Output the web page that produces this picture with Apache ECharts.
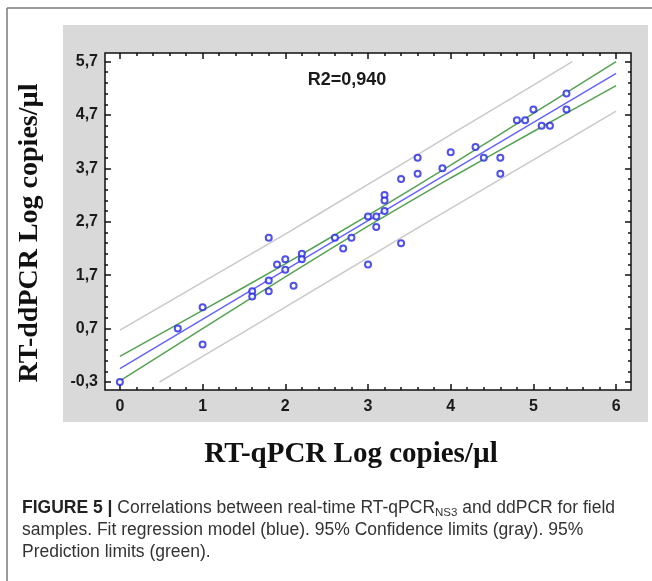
<!DOCTYPE html>
<html>
<head>
<meta charset="utf-8">
<script src="https://cdn.jsdelivr.net/npm/echarts@6/dist/echarts.min.js"></script>
<style>
html,body{margin:0;padding:0;background:#fff;}
#chart{width:652px;height:581px;}
</style>
</head>
<body>
<div id="chart"></div>
<script>
// ---- data ----
const pointsX = [0, 0.7, 1.0, 1.0, 1.6, 1.6, 1.8, 1.8, 1.8, 1.9, 2.0, 2.0, 2.1, 2.2, 2.2, 2.6, 2.7, 2.8, 3.0, 3.0, 3.1, 3.1, 3.2, 3.2, 3.2, 3.4, 3.4, 3.6, 3.6, 3.9, 4.0, 4.3, 4.4, 4.6, 4.6, 4.8, 4.9, 5.0, 5.1, 5.2, 5.4, 5.4];
const pointsY = [-0.3, 0.7, 1.1, 0.4, 1.4, 1.3, 2.4, 1.6, 1.4, 1.9, 2.0, 1.8, 1.5, 2.1, 2.0, 2.4, 2.2, 2.4, 2.8, 1.9, 2.8, 2.6, 3.2, 3.1, 2.9, 3.5, 2.3, 3.9, 3.6, 3.7, 4.0, 4.1, 3.9, 3.9, 3.6, 4.6, 4.6, 4.8, 4.5, 4.5, 5.1, 4.8];

const fitX = [0, 3, 6];
const fitY = [-0.05, 2.72, 5.48];

const greenX = [0, 1, 2, 3, 4, 5, 6];
const greenUpperY = [0.18, 1.04, 1.91, 2.82, 3.76, 4.73, 5.70];
const greenLowerY = [-0.28, 0.70, 1.67, 2.62, 3.52, 4.39, 5.25];

const grayUpperX = [0, 1, 2, 3, 4, 5, 5.47];
const grayUpperY = [0.67, 1.57, 2.47, 3.40, 4.33, 5.26, 5.70];
const grayLowerX = [0.48, 1, 2, 3, 4, 5, 6];
const grayLowerY = [-0.30, 0.18, 1.10, 2.03, 2.95, 3.86, 4.77];

const xMajorTicks = [0, 1, 2, 3, 4, 5, 6];
const yMajorTicks = [-0.3, 0.7, 1.7, 2.7, 3.7, 4.7, 5.7];

const r2Label = 'R2=0,940';
const xTitle = 'RT-qPCR Log copies/\u00b5l';
const yTitle = 'RT-ddPCR Log copies/\u00b5l';

// ---- helpers ----
function minorOf(majors, step, lo, hi) {
  const out = [];
  const first = majors[0];
  for (let v = first - 5 * step; v <= hi + 1e-9; v += step) {
    const r = Math.round(v * 100) / 100;
    if (r < lo || r > hi) continue;
    if (majors.some(m => Math.abs(m - r) < 1e-6)) continue;
    out.push(r);
  }
  return out;
}
const X_MIN = -0.18, X_MAX = 6.18, Y_MIN = -0.45, Y_MAX = 5.86;
const xMinorTicks = minorOf(xMajorTicks, 0.2, X_MIN, X_MAX);
const yMinorTicks = minorOf(yMajorTicks, 0.2, Y_MIN, Y_MAX);

const zip = (xs, ys) => xs.map((x, i) => [x, ys[i]]);

const tickColor = '#111';
const labelFont = { fontFamily: 'Liberation Sans, Arial, sans-serif', fontWeight: 'bold', fontSize: 16, color: '#1a1a1a' };

function makeAxis(kind, position, values, len, withLabels) {
  const isX = kind === 'x';
  return {
    type: 'value',
    position: position,
    min: isX ? X_MIN : Y_MIN,
    max: isX ? X_MAX : Y_MAX,
    axisLine: { show: false, onZero: false },
    splitLine: { show: false },
    axisTick: { show: true, inside: true, length: len, customValues: values, lineStyle: { color: tickColor, width: 1.5 } },
    axisLabel: withLabels ? Object.assign({
      show: true,
      customValues: values,
      margin: isX ? 9 : 7,
      formatter: v => isX ? String(Math.round(v)) : Number(v).toFixed(1).replace('.', ',')
    }, labelFont) : { show: false }
  };
}

const chart = echarts.init(document.getElementById('chart'), null, { renderer: 'canvas' });

const lineBase = { type: 'line', showSymbol: false, symbol: 'none', silent: true, smooth: 0.2, z: 3 };

chart.setOption({
  animation: false,
  backgroundColor: '#ffffff',
  grid: {
    left: 105, top: 53, width: 526, height: 337,
    show: true, backgroundColor: '#ffffff', borderColor: '#111', borderWidth: 1.5,
    containLabel: false
  },
  xAxis: [
    makeAxis('x', 'bottom', xMajorTicks, 6, true),
    makeAxis('x', 'bottom', xMinorTicks, 3, false),
    makeAxis('x', 'top', xMajorTicks, 6, false),
    makeAxis('x', 'top', xMinorTicks, 3, false)
  ],
  yAxis: [
    makeAxis('y', 'left', yMajorTicks, 6, true),
    makeAxis('y', 'left', yMinorTicks, 3, false),
    makeAxis('y', 'right', yMajorTicks, 6, false),
    makeAxis('y', 'right', yMinorTicks, 3, false)
  ],
  series: [
    Object.assign({}, lineBase, { name: 'gray upper', data: zip(grayUpperX, grayUpperY), lineStyle: { color: '#c9c9c9', width: 1.5 } }),
    Object.assign({}, lineBase, { name: 'gray lower', data: zip(grayLowerX, grayLowerY), lineStyle: { color: '#c9c9c9', width: 1.5 } }),
    Object.assign({}, lineBase, { name: 'green upper', data: zip(greenX, greenUpperY), lineStyle: { color: '#55a352', width: 1.5 } }),
    Object.assign({}, lineBase, { name: 'green lower', data: zip(greenX, greenLowerY), lineStyle: { color: '#55a352', width: 1.5 } }),
    Object.assign({}, lineBase, { name: 'fit', smooth: false, data: zip(fitX, fitY), lineStyle: { color: '#6464ff', width: 1.5 } }),
    {
      type: 'scatter', name: 'samples', data: zip(pointsX, pointsY),
      symbol: 'emptyCircle', symbolSize: 6, z: 5,
      itemStyle: { color: '#2424e6', borderColor: '#2424e6', borderWidth: 2 }
    }
  ],
  graphic: [
    { type: 'rect', z: -10, silent: true, shape: { x: 63, y: 25, width: 585, height: 397 }, style: { fill: '#d9d9d9' } },
    { type: 'line', z: -5, silent: true, shape: { x1: 7, y1: 8, x2: 652, y2: 8 }, style: { stroke: '#7a7a7a', lineWidth: 1.5 } },
    { type: 'line', z: -5, silent: true, shape: { x1: 7, y1: 8, x2: 7, y2: 581 }, style: { stroke: '#7a7a7a', lineWidth: 1.5 } },
    { type: 'text', z: 10, silent: true, x: 347, y: 80, style: { text: r2Label, textAlign: 'center', textVerticalAlign: 'middle', font: 'bold 18px "Liberation Sans", Arial, sans-serif', fill: '#1a1a1a' } },
    { type: 'text', z: 10, silent: true, x: 351, y: 455, style: { text: xTitle, textAlign: 'center', textVerticalAlign: 'middle', font: 'bold 29px "Liberation Serif", "Times New Roman", serif', fill: '#111' } },
    { type: 'text', z: 10, silent: true, x: 30, y: 233, rotation: Math.PI / 2, style: { text: yTitle, textAlign: 'center', textVerticalAlign: 'middle', font: 'bold 28px "Liberation Serif", "Times New Roman", serif', fill: '#111' } },
    {
      type: 'text', z: 10, silent: true, x: 22, y: 497,
      style: {
        text: '{b|FIGURE 5 |} {r|Correlations between real-time RT-qPCR}{s|NS3}{r| and ddPCR for field}\n{r|samples. Fit regression model (blue). 95% Confidence limits (gray). 95%}\n{r|Prediction limits (green).}',
        textAlign: 'left', textVerticalAlign: 'top',
        fontFamily: '"Liberation Sans", Arial, sans-serif', fontSize: 17.5, fill: '#333',
        rich: {
          b: { fontFamily: '"Liberation Sans", Arial, sans-serif', fontSize: 17.5, fontWeight: 'bold', fill: '#222', lineHeight: 22 },
          r: { fontFamily: '"Liberation Sans", Arial, sans-serif', fontSize: 17.5, fill: '#333', lineHeight: 22 },
          s: { fontFamily: '"Liberation Sans", Arial, sans-serif', fontSize: 11.5, fill: '#333', lineHeight: 12, verticalAlign: 'bottom' }
        }
      }
    }
  ]
});
</script>
</body>
</html>
